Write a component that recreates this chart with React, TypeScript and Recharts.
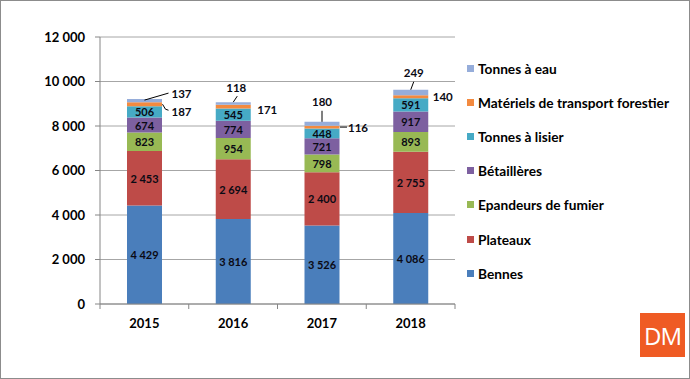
import { BarChart, Bar, XAxis, YAxis, CartesianGrid, LabelList } from "recharts";

const years = ["2015", "2016", "2017", "2018"];
const bennes = [4429, 3816, 3526, 4086];
const plateaux = [2453, 2694, 2400, 2755];
const epandeurs = [823, 954, 798, 893];
const betailleres = [674, 774, 721, 917];
const lisier = [506, 545, 448, 591];
const forestier = [187, 171, 116, 140];
const eau = [137, 118, 180, 249];
const yTicks = [0, 2000, 4000, 6000, 8000, 10000, 12000];

const series = [
  { key: "bennes", name: "Bennes", color: "#4A7EBB", values: bennes },
  { key: "plateaux", name: "Plateaux", color: "#BE4B48", values: plateaux },
  { key: "epandeurs", name: "Epandeurs de fumier", color: "#98B954", values: epandeurs },
  { key: "betailleres", name: "Bétaillères", color: "#7D60A0", values: betailleres },
  { key: "lisier", name: "Tonnes à lisier", color: "#46AAC5", values: lisier },
  { key: "forestier", name: "Matériels de transport forestier", color: "#F38A3F", values: forestier },
  { key: "eau", name: "Tonnes à eau", color: "#96ADDA", values: eau },
];

const data = years.map((year, i) => {
  const row: any = { year };
  series.forEach((s) => (row[s.key] = s.values[i]));
  return row;
});

const font = "Lato, 'Open Sans', sans-serif";
const fmt = (v: number) => String(v).replace(/\B(?=(\d{3})+(?!\d))/g, " ");

// placement of the outside labels (offsets from the segment top-centre / centre)
const eauPlace = [
  { dx: 37, dy: -6, line: [[0, 1], [24, -6]] },
  { dx: 3, dy: -15, line: [[0, 0], [4, -6]] },
  { dx: 0, dy: -20, line: [[0, 0], [0, -11]] },
  { dx: 3, dy: -17, line: [[0, 0], [3, -8]] },
];
const forestierPlace = [
  { dx: 37, dy: 7, line: [[18, 0], [21, 5], [24, 6]] },
  { dx: 34, dy: 3, line: null },
  { dx: 36, dy: 0, line: [[18, 0], [25, 0]] },
  { dx: 32, dy: 0, line: null },
];

const labelText = { fontFamily: font, fontWeight: "bold" as const, fontSize: 11, fill: "#0a0a14" };

const InsideLabel = (props: any) => {
  const x = Number(props.x) + Number(props.width) / 2;
  const y = Number(props.y) + Number(props.height) / 2;
  return (
    <text x={x} y={y} textAnchor="middle" dominantBaseline="central" {...labelText}>
      {fmt(Number(props.value))}
    </text>
  );
};

const OutsideLabel = (places: any[], fromTop: boolean) => (props: any) => {
  const x = Number(props.x);
  const y = Number(props.y);
  const w = Number(props.width);
  const h = Number(props.height);
  const p = places[props.index];
  if (!p) return null;
  const cx = x + w / 2;
  const cy = fromTop ? y : y + h / 2;
  return (
    <g>
      {p.line && (
        <polyline
          points={p.line.map((pt: number[]) => `${cx + pt[0]},${cy + pt[1]}`).join(" ")}
          fill="none"
          stroke="#000"
          strokeWidth={1}
        />
      )}
      <text x={cx + p.dx} y={cy + p.dy} textAnchor="middle" dominantBaseline="central" {...labelText} fontSize={11.5}>
        {props.value}
      </text>
    </g>
  );
};

const XTick = (props: any) => {
  const { x, y, payload, index } = props;
  const off = payload.offset || 44.4;
  return (
    <g>
      <line x1={x - off} x2={x - off} y1={y - 7} y2={y - 2} stroke="#868686" />
      {index === years.length - 1 && (
        <line x1={x + off} x2={x + off} y1={y - 7} y2={y - 2} stroke="#868686" />
      )}
      <text x={x} y={y + 12} textAnchor="middle" dominantBaseline="central" fontFamily={font} fontWeight="bold" fontSize={13} fill="#000">
        {payload.value}
      </text>
    </g>
  );
};

const App = () => (
  <div style={{ position: "absolute", left: 0, top: 0, width: 690, height: 379, background: "#fff", fontFamily: font }}>
    <BarChart width={690} height={379} data={data} margin={{ top: 37, right: 235, left: 0, bottom: 45 }}>
      <CartesianGrid horizontal vertical={false} stroke="#a6a6a6" />
      <XAxis dataKey="year" height={30} stroke="#868686" tickLine={false} tickMargin={2} tickSize={5} tick={<XTick />} interval={0} />
      <YAxis
        width={100}
        domain={[0, 12000]}
        ticks={yTicks}
        interval={0}
        stroke="#868686"
        tickSize={5}
        tickMargin={10}
        tickFormatter={fmt}
        tick={{ fontFamily: font, fontWeight: "bold", fontSize: 13, fill: "#000" }}
      />
      {series.map((s) => (
        <Bar key={s.key} dataKey={s.key} name={s.name} stackId="a" fill={s.color} barSize={35} isAnimationActive={false}>
          <LabelList
            dataKey={s.key}
            content={
              s.key === "eau"
                ? OutsideLabel(eauPlace, true)
                : s.key === "forestier"
                ? OutsideLabel(forestierPlace, false)
                : InsideLabel
            }
          />
        </Bar>
      ))}
    </BarChart>

    <div style={{ position: "absolute", left: 467, top: 51 }}>
      {[...series].reverse().map((s) => (
        <div key={s.key} style={{ display: "flex", alignItems: "center", height: 34.2 }}>
          <span style={{ width: 7, height: 7, background: s.color, marginRight: 4 }} />
          <span style={{ fontSize: 13.7, fontWeight: "bold", color: "#000", whiteSpace: "nowrap" }}>{s.name}</span>
        </div>
      ))}
    </div>

    <div
      style={{
        position: "absolute",
        left: 640,
        top: 313,
        width: 45,
        height: 44,
        background: "#EF5B24",
        color: "#fff",
        fontFamily: "'Open Sans', sans-serif",
        fontSize: 24,
        display: "flex",
        alignItems: "center",
        justifyContent: "center",
        letterSpacing: -1,
      }}
    >
      DM
    </div>

    <div style={{ position: "absolute", left: 0, top: 0, width: 690, height: 379, boxSizing: "border-box", border: "1px solid #8c8c8c", pointerEvents: "none" }} />
  </div>
);

export default App;
